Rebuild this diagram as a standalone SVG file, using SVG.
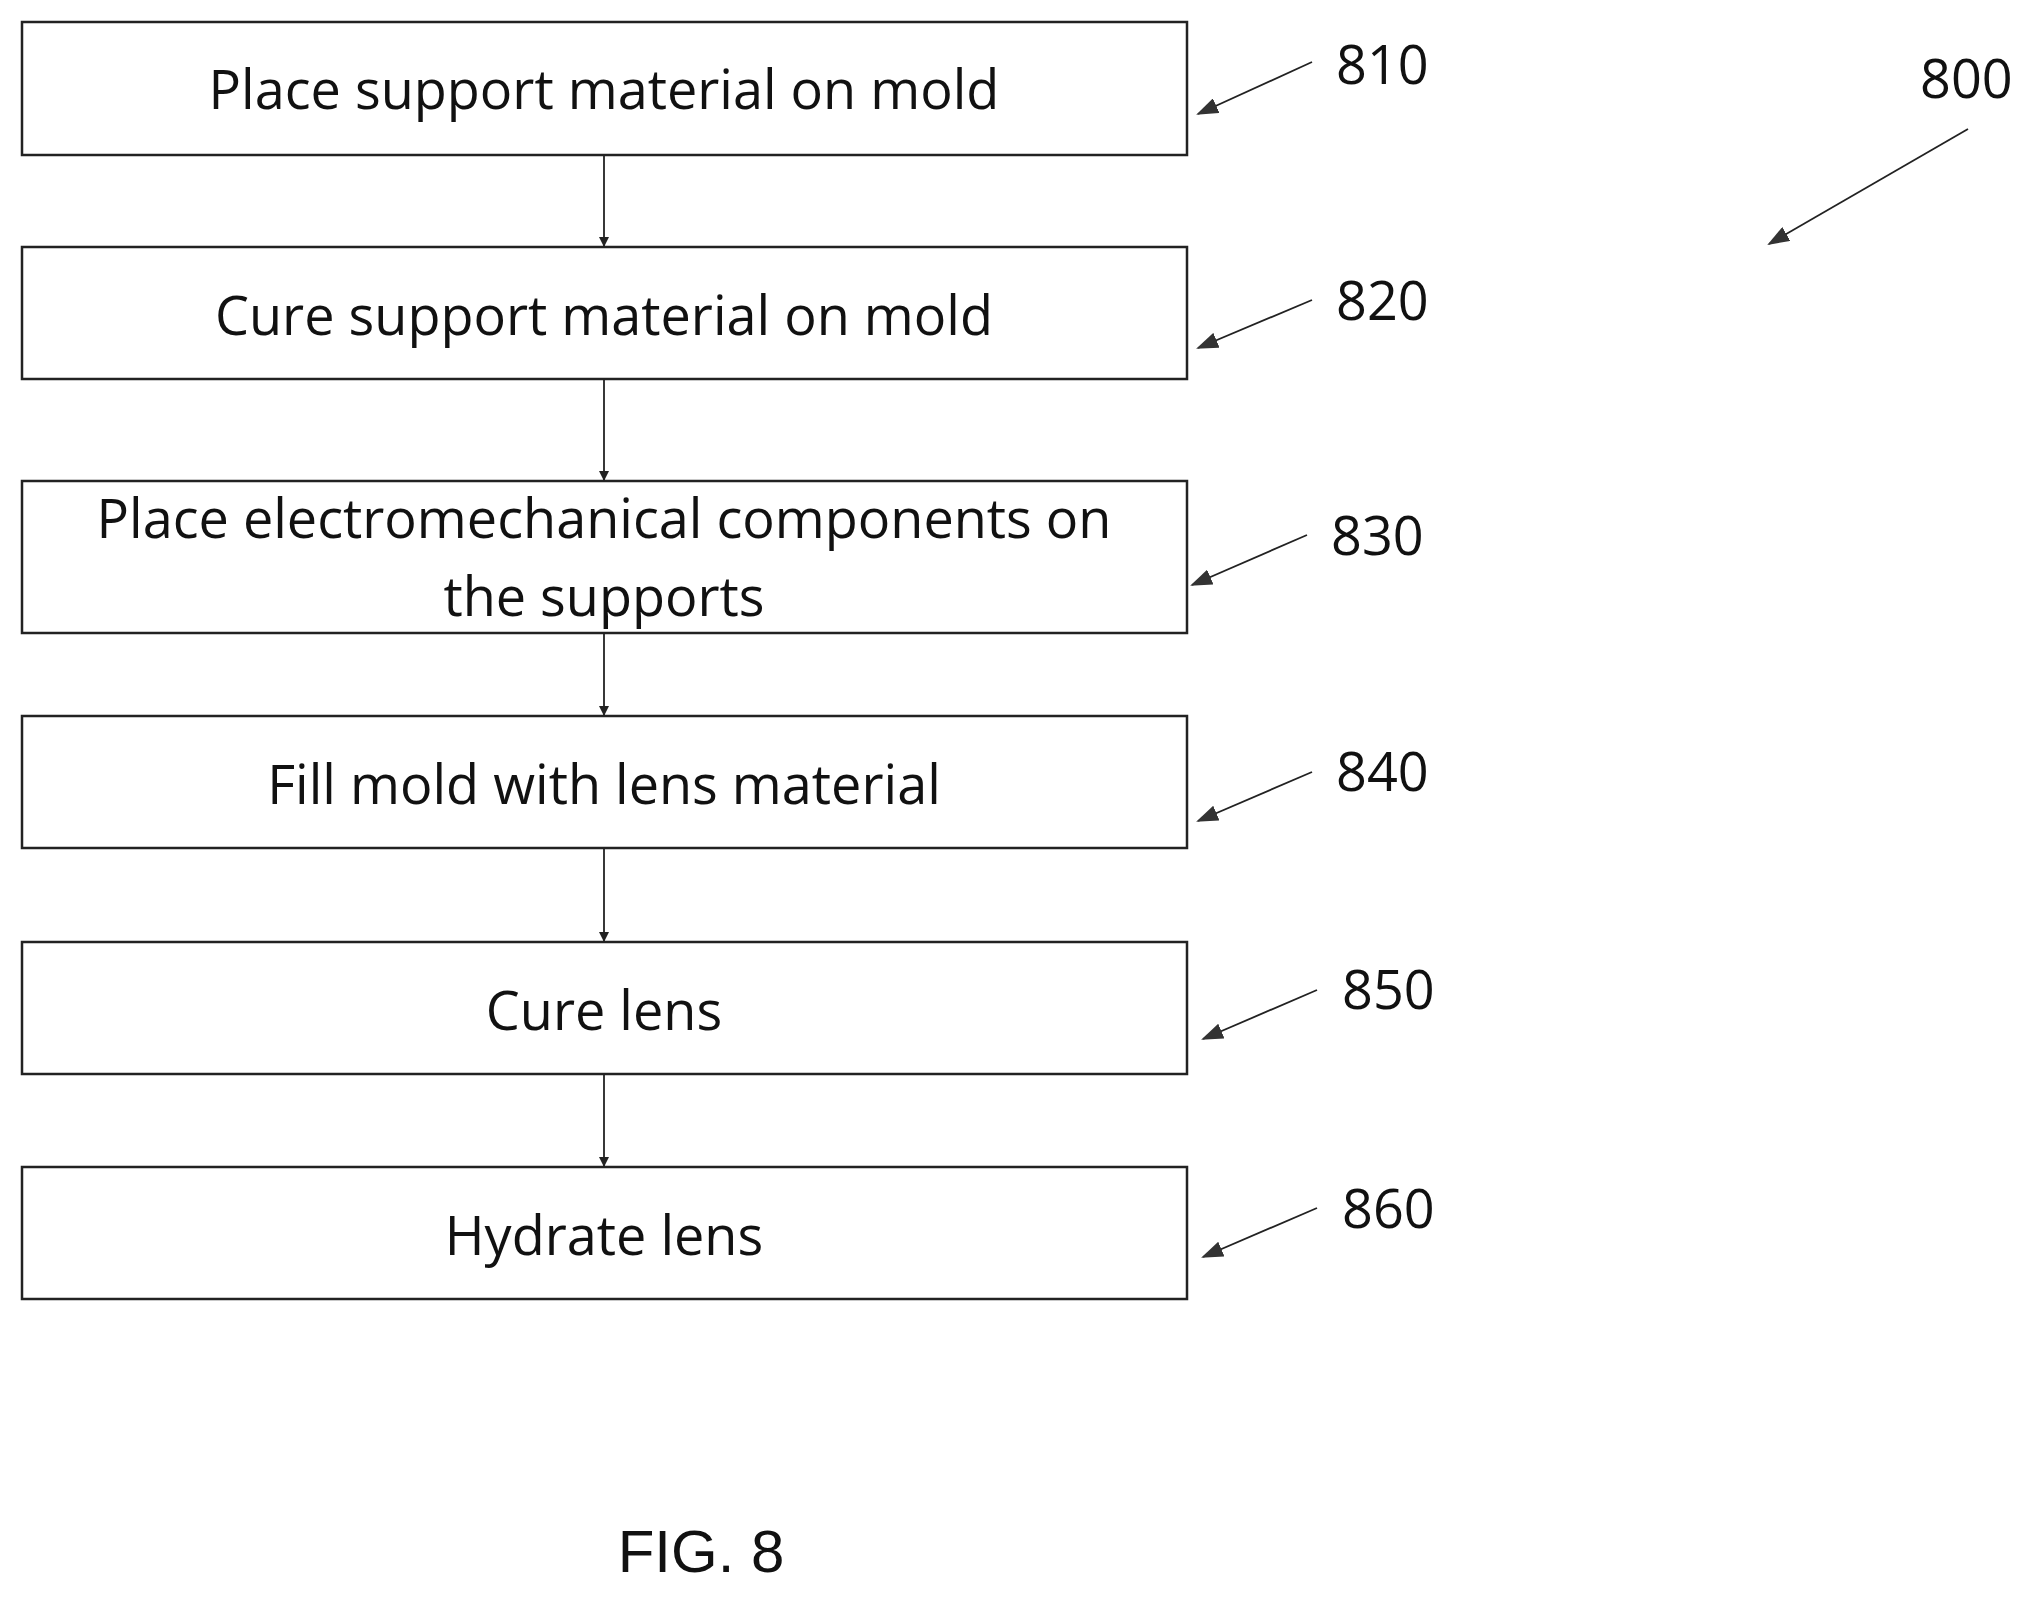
<svg xmlns="http://www.w3.org/2000/svg" width="2037" height="1597" viewBox="0 0 2037 1597">
<style>
.b{fill:#fff;stroke:#222;stroke-width:2.5}
.t{font-family:"Open Sans","Liberation Sans",sans-serif;font-size:54px;fill:#111;text-anchor:middle}
.l{font-family:"Open Sans","Liberation Sans",sans-serif;font-size:54px;fill:#111}
.c{stroke:#222;stroke-width:1.8;fill:none}
</style>
<defs><marker id="a" markerWidth="10" markerHeight="10" refX="9" refY="5" orient="auto" markerUnits="userSpaceOnUse" viewBox="0 0 10 10"><path d="M0,0 L10,5 L0,10 z" fill="#222"/></marker>
<marker id="b" markerWidth="22" markerHeight="16" refX="20" refY="8" orient="auto" markerUnits="userSpaceOnUse" viewBox="0 0 22 16"><path d="M0,0 L22,8 L0,16 z" fill="#333"/></marker></defs>
<rect width="2037" height="1597" fill="#fff"/>
<g id="n810"><rect class="b" x="22" y="22" width="1165" height="133"/><text class="t" x="604" y="109">Place support material on mold</text></g>
<g id="n820"><rect class="b" x="22" y="247" width="1165" height="132"/><text class="t" x="604" y="335">Cure support material on mold</text></g>
<g id="n830"><rect class="b" x="22" y="481" width="1165" height="152"/><text class="t" x="604" y="538">Place electromechanical components on</text><text class="t" x="604" y="616">the supports</text></g>
<g id="n840"><rect class="b" x="22" y="716" width="1165" height="132"/><text class="t" x="604" y="804">Fill mold with lens material</text></g>
<g id="n850"><rect class="b" x="22" y="942" width="1165" height="132"/><text class="t" x="604" y="1030">Cure lens</text></g>
<g id="n860"><rect class="b" x="22" y="1167" width="1165" height="132"/><text class="t" x="604" y="1255">Hydrate lens</text></g>
<g id="connectors">
<line class="c" x1="604" y1="155" x2="604" y2="246" marker-end="url(#a)"/>
<line class="c" x1="604" y1="379" x2="604" y2="480" marker-end="url(#a)"/>
<line class="c" x1="604" y1="633" x2="604" y2="715" marker-end="url(#a)"/>
<line class="c" x1="604" y1="848" x2="604" y2="941" marker-end="url(#a)"/>
<line class="c" x1="604" y1="1074" x2="604" y2="1166" marker-end="url(#a)"/>
<line class="c" x1="1312" y1="62" x2="1198" y2="114" marker-end="url(#b)"/>
<line class="c" x1="1312" y1="300" x2="1198" y2="348" marker-end="url(#b)"/>
<line class="c" x1="1307" y1="535" x2="1192" y2="585" marker-end="url(#b)"/>
<line class="c" x1="1312" y1="772" x2="1198" y2="821" marker-end="url(#b)"/>
<line class="c" x1="1317" y1="990" x2="1203" y2="1039" marker-end="url(#b)"/>
<line class="c" x1="1317" y1="1208" x2="1203" y2="1257" marker-end="url(#b)"/>
<line class="c" x1="1968" y1="129" x2="1769" y2="244" marker-end="url(#b)"/>
</g>
<g id="labels">
<text class="l" x="1336" y="84">810</text>
<text class="l" x="1336" y="320">820</text>
<text class="l" x="1331" y="555">830</text>
<text class="l" x="1336" y="791">840</text>
<text class="l" x="1342" y="1009">850</text>
<text class="l" x="1342" y="1228">860</text>
<text class="l" x="1920" y="98">800</text>
<text x="701" y="1572" text-anchor="middle" font-family="Liberation Sans,Arial,sans-serif" font-size="60" fill="#111">FIG. 8</text>
</g>
</svg>
